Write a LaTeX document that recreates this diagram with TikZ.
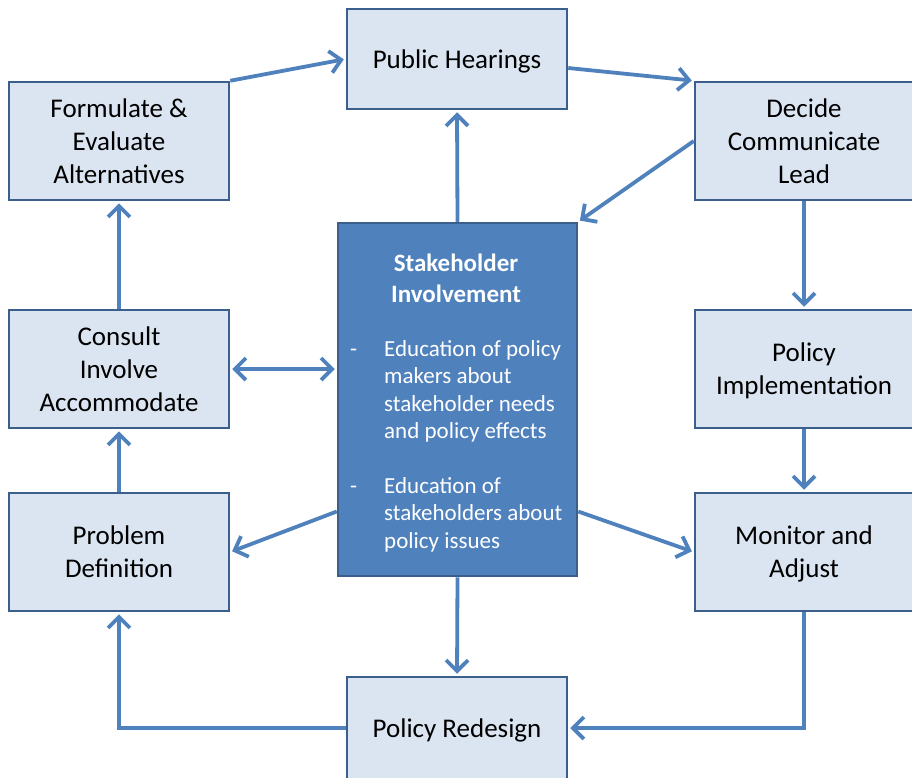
\documentclass[tikz,border=0pt]{standalone}
\usepackage{fontspec}
\setmainfont{Carlito}
\usetikzlibrary{arrows.meta}
\definecolor{boxfill}{HTML}{DBE5F1}
\definecolor{boxline}{HTML}{3A5F8C}
\definecolor{arrowc}{HTML}{4F81BD}
\definecolor{midfill}{HTML}{4F81BD}
\begin{document}
\begin{tikzpicture}[x=1pt,y=-1pt,
  box/.style={draw=boxline, fill=boxfill, line width=2.5pt, rectangle, inner sep=0pt,
    align=center, font=\fontsize{27}{33}\selectfont, text=black, text depth=0pt,
    minimum width=220pt, minimum height=118pt},
  conn/.style={draw=arrowc, line width=3.8pt, line cap=butt,
    -{Straight Barb[length=11pt,width=22pt]}, shorten >=2pt},
  midtext/.style={text=white, inner sep=0pt, font=\fontsize{23}{27.5}\selectfont},
]
\useasboundingbox (0,0) rectangle (912,777);
\node[box, minimum height=100pt] (ph) at (457,59) {Public Hearings};
\node[box] (fe) at (119,141) {Formulate \&\\Evaluate\\Alternatives};
\node[box, minimum width=218pt] (dc) at (804,141) {Decide\\Communicate\\Lead};
\node[box] (ci) at (119,369) {Consult\\Involve\\Accommodate};
\node[box, minimum width=218pt] (pi) at (804,369) {Policy\\Implementation};
\node[box] (pd) at (119,552) {Problem\\Definition};
\node[box, minimum width=218pt] (ma) at (804,552) {Monitor and\\Adjust};
\node[box, minimum height=102pt] (pr) at (457,728) {Policy Redesign};
\node[draw=boxline, fill=midfill, line width=2.5pt, inner sep=0pt,
  minimum width=239pt, minimum height=353pt] (si) at (457.5,399.5) {};
\node[midtext, font=\bfseries\fontsize{25}{31}\selectfont, align=center] (sit) at (456,278) {Stakeholder\\Involvement};
\node[midtext, anchor=north west, align=left] (p1) at (384,340) {Education of policy\\makers about\\stakeholder needs\\and policy effects};
\node[midtext, anchor=north west] (d1) at (350,340) {\vphantom{Efl}-};
\node[midtext, anchor=north west, align=left] (p2) at (384,477) {Education of\\stakeholders about\\policy issues};
\node[midtext, anchor=north west] (d2) at (350,477) {\vphantom{Efl}-};
% connectors
\draw[conn] (fe.north east) -- (ph.west);
\draw[conn] ([yshift=-9pt]ph.east) -- (dc.north west);
\draw[conn] (dc.west) -- (si.north east);
\draw[conn] (si.north) -- (ph.south);
\draw[conn] (dc.south) -- (pi.north);
\draw[conn] (pi.south) -- (ma.north);
\draw[conn] ([yshift=-112pt]si.east) -- (ma.west);
\draw[conn] ([yshift=-112pt]si.west) -- (pd.east);
\draw[conn, {Straight Barb[length=11pt,width=22pt]}-{Straight Barb[length=11pt,width=22pt]}, shorten <=2pt] (ci.east) -- (ci.east -| si.west);
\draw[conn] (ma.south) -- (ma.south |- pr.east) -- (pr.east);
\draw[conn] (pr.west) -- (pr.west -| pd.south) -- (pd.south);
\draw[conn] (si.south) -- (pr.north);
\draw[conn] (pd.north) -- (ci.south);
\draw[conn] (ci.north) -- (fe.south);
\end{tikzpicture}
\end{document}
